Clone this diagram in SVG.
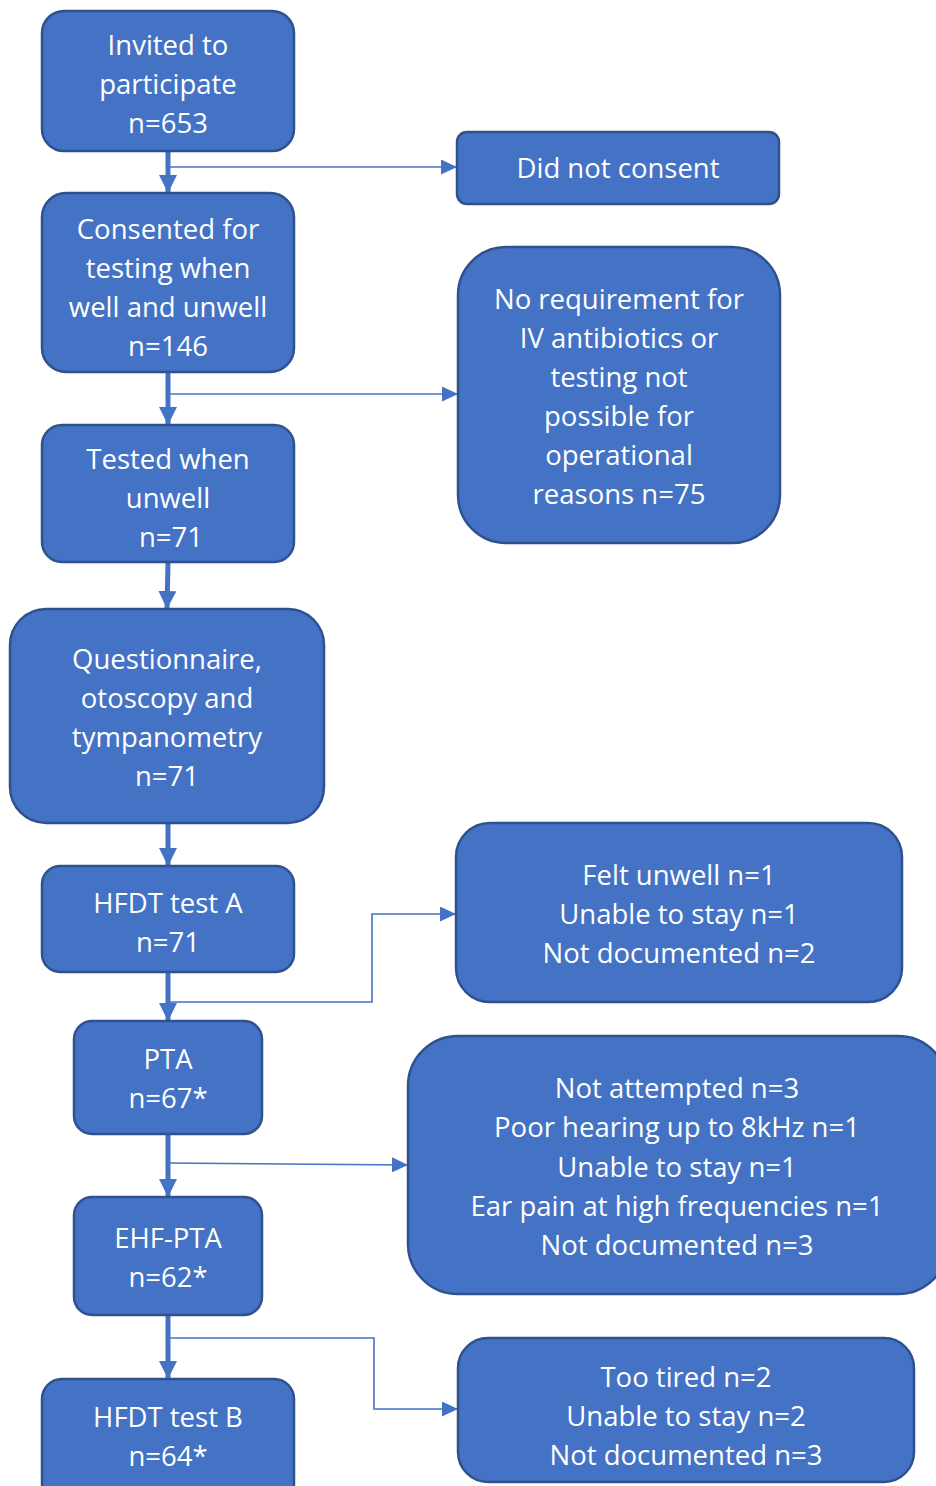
<svg xmlns="http://www.w3.org/2000/svg" width="936" height="1486" viewBox="0 0 936 1486">
  <style>
    .box { fill: #4472C4; stroke: #2F528F; stroke-width: 2.5; }
    .lbl { font-family: "Open Sans", "Noto Sans", "Liberation Sans", sans-serif; font-size: 27.5px; fill: #FFFFFF; text-anchor: middle; dominant-baseline: central; }
    .main { stroke: #4472C4; stroke-width: 5; fill: none; }
    .side { stroke: #4472C4; stroke-width: 1.6; fill: none; }
  </style>
  <defs>
    <marker id="headMain" viewBox="0 0 10 10" refX="10" refY="5" markerUnits="userSpaceOnUse" markerWidth="18" markerHeight="18" preserveAspectRatio="none" orient="auto">
      <path d="M0,0 L10,5 L0,10 Z" fill="#4472C4"/>
    </marker>
    <marker id="headSide" viewBox="0 0 10 10" refX="10" refY="5" markerUnits="userSpaceOnUse" markerWidth="16" markerHeight="15" preserveAspectRatio="none" orient="auto">
      <path d="M0,0 L10,5 L0,10 Z" fill="#4472C4"/>
    </marker>
  </defs>

  <g id="connectors">
    <path class="main" d="M168,151 V193" marker-end="url(#headMain)"/>
    <path class="main" d="M168,372 V425" marker-end="url(#headMain)"/>
    <path class="main" d="M168,562 L167,609" marker-end="url(#headMain)"/>
    <path class="main" d="M168,823 V866" marker-end="url(#headMain)"/>
    <path class="main" d="M168,972 V1021" marker-end="url(#headMain)"/>
    <path class="main" d="M168,1134 V1197" marker-end="url(#headMain)"/>
    <path class="main" d="M168,1315 V1379" marker-end="url(#headMain)"/>
    <path class="side" d="M168,167 H457" marker-end="url(#headSide)"/>
    <path class="side" d="M168,394 H458" marker-end="url(#headSide)"/>
    <path class="side" d="M168,1002 H372 V914 H456" marker-end="url(#headSide)"/>
    <path class="side" d="M168,1163 L408,1165" marker-end="url(#headSide)"/>
    <path class="side" d="M168,1338 H374 V1409 H458" marker-end="url(#headSide)"/>
  </g>

  <g id="invited">
    <rect class="box" x="42" y="11" width="252" height="140" rx="22"/>
    <text class="lbl" x="168" y="44">Invited to</text>
    <text class="lbl" x="168" y="83">participate</text>
    <text class="lbl" x="168" y="122">n=653</text>
  </g>
  <g id="no-consent">
    <rect class="box" x="457" y="132" width="322" height="72" rx="10"/>
    <text class="lbl" x="618" y="167">Did not consent</text>
  </g>
  <g id="consented">
    <rect class="box" x="42" y="193" width="252" height="179" rx="24"/>
    <text class="lbl" x="168" y="228">Consented for</text>
    <text class="lbl" x="168" y="267">testing when</text>
    <text class="lbl" x="168" y="306">well and unwell</text>
    <text class="lbl" x="168" y="345">n=146</text>
  </g>
  <g id="not-required">
    <rect class="box" x="458" y="247" width="322" height="296" rx="48"/>
    <text class="lbl" x="619" y="298">No requirement for</text>
    <text class="lbl" x="619" y="337">IV antibiotics or</text>
    <text class="lbl" x="619" y="376">testing not</text>
    <text class="lbl" x="619" y="415">possible for</text>
    <text class="lbl" x="619" y="454">operational</text>
    <text class="lbl" x="619" y="493">reasons n=75</text>
  </g>
  <g id="tested-unwell">
    <rect class="box" x="42" y="425" width="252" height="137" rx="20"/>
    <text class="lbl" x="168" y="458">Tested when</text>
    <text class="lbl" x="168" y="497">unwell</text>
    <text class="lbl" x="171" y="536">n=71</text>
  </g>
  <g id="questionnaire">
    <rect class="box" x="10" y="609" width="314" height="214" rx="36"/>
    <text class="lbl" x="167" y="658">Questionnaire,</text>
    <text class="lbl" x="167" y="697">otoscopy and</text>
    <text class="lbl" x="167" y="736">tympanometry</text>
    <text class="lbl" x="167" y="775">n=71</text>
  </g>
  <g id="hfdt-a">
    <rect class="box" x="42" y="866" width="252" height="106" rx="18"/>
    <text class="lbl" x="168" y="902">HFDT test A</text>
    <text class="lbl" x="168" y="941">n=71</text>
  </g>
  <g id="excluded-a">
    <rect class="box" x="456" y="823" width="446" height="179" rx="34"/>
    <text class="lbl" x="679" y="874">Felt unwell n=1</text>
    <text class="lbl" x="679" y="913">Unable to stay n=1</text>
    <text class="lbl" x="679" y="952">Not documented n=2</text>
  </g>
  <g id="pta">
    <rect class="box" x="74" y="1021" width="188" height="113" rx="18"/>
    <text class="lbl" x="168" y="1058">PTA</text>
    <text class="lbl" x="168" y="1097">n=67*</text>
  </g>
  <g id="excluded-pta">
    <rect class="box" x="408" y="1036" width="540" height="258" rx="50"/>
    <text class="lbl" x="677" y="1087">Not attempted n=3</text>
    <text class="lbl" x="677" y="1126">Poor hearing up to 8kHz n=1</text>
    <text class="lbl" x="677" y="1166">Unable to stay n=1</text>
    <text class="lbl" x="677" y="1205">Ear pain at high frequencies n=1</text>
    <text class="lbl" x="677" y="1244">Not documented n=3</text>
  </g>
  <g id="ehf-pta">
    <rect class="box" x="74" y="1197" width="188" height="118" rx="18"/>
    <text class="lbl" x="168" y="1237">EHF-PTA</text>
    <text class="lbl" x="168" y="1276">n=62*</text>
  </g>
  <g id="excluded-b">
    <rect class="box" x="458" y="1338" width="456" height="144" rx="30"/>
    <text class="lbl" x="686" y="1376">Too tired n=2</text>
    <text class="lbl" x="686" y="1415">Unable to stay n=2</text>
    <text class="lbl" x="686" y="1454">Not documented n=3</text>
  </g>
  <g id="hfdt-b">
    <rect class="box" x="42" y="1379" width="252" height="125" rx="20"/>
    <text class="lbl" x="168" y="1416">HFDT test B</text>
    <text class="lbl" x="168" y="1455">n=64*</text>
  </g>
</svg>
